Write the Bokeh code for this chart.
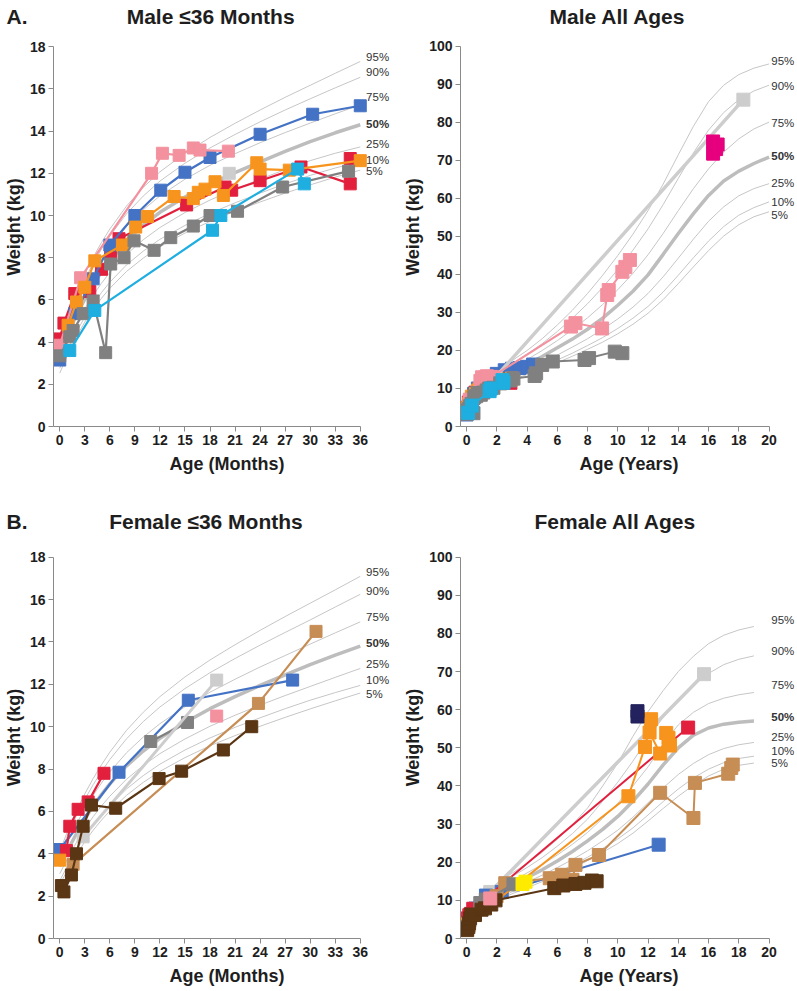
from bokeh.plotting import figure
from bokeh.layouts import column, row
from bokeh.models import Range1d, FixedTicker, Label, Title
from bokeh.embed import file_html
from bokeh.resources import INLINE

FONT = "Liberation Sans"
PCT_NAMES = ["5%", "10%", "25%", "50%", "75%", "90%", "95%"]

# ---------------- percentile reference curves ----------------
# Boys, birth to 36 months (months, kg)
BOY_INF_AGE = [0, 1, 2, 3, 4, 5, 6, 8, 10, 12, 15, 18, 21, 24, 27, 30, 33, 36]
BOY_INF_P5 = [2.53, 3.45, 4.25, 4.95, 5.55, 6.08, 6.55, 7.35, 7.98, 8.52, 9.17, 9.72, 10.20, 10.64, 11.06, 11.45, 11.82, 12.15]
BOY_INF_P10 = [2.76, 3.68, 4.48, 5.19, 5.80, 6.35, 6.84, 7.66, 8.31, 8.87, 9.53, 10.10, 10.60, 11.06, 11.50, 11.90, 12.25, 12.55]
BOY_INF_P25 = [3.15, 4.05, 4.86, 5.58, 6.22, 6.79, 7.30, 8.16, 8.85, 9.43, 10.14, 10.73, 11.25, 11.72, 12.18, 12.60, 12.95, 13.25]
BOY_INF_P50 = [3.53, 4.44, 5.28, 6.03, 6.72, 7.33, 7.88, 8.81, 9.54, 10.15, 10.88, 11.49, 12.03, 12.54, 13.04, 13.50, 13.92, 14.30]
BOY_INF_P75 = [3.88, 4.85, 5.73, 6.52, 7.24, 7.89, 8.48, 9.48, 10.27, 10.93, 11.72, 12.38, 12.93, 13.45, 13.93, 14.38, 14.82, 15.25]
BOY_INF_P90 = [4.17, 5.22, 6.15, 6.98, 7.73, 8.41, 9.03, 10.08, 10.92, 11.63, 12.48, 13.20, 13.84, 14.44, 15.00, 15.53, 16.05, 16.55]
BOY_INF_P95 = [4.34, 5.42, 6.38, 7.24, 8.02, 8.72, 9.36, 10.45, 11.33, 12.07, 12.95, 13.70, 14.37, 15.00, 15.60, 16.17, 16.74, 17.30]

# Girls, birth to 36 months (months, kg)
GIRL_INF_AGE = [0, 1, 2, 3, 4, 5, 6, 8, 10, 12, 15, 18, 21, 24, 27, 30, 33, 36]
GIRL_INF_P5 = [2.55, 3.28, 3.96, 4.57, 5.11, 5.59, 6.02, 6.76, 7.37, 7.89, 8.54, 9.10, 9.58, 10.02, 10.44, 10.84, 11.22, 11.59]
GIRL_INF_P10 = [2.73, 3.48, 4.18, 4.80, 5.35, 5.85, 6.29, 7.06, 7.69, 8.23, 8.90, 9.47, 9.97, 10.42, 10.85, 11.25, 11.61, 11.95]
GIRL_INF_P25 = [3.06, 3.82, 4.54, 5.18, 5.75, 6.26, 6.72, 7.52, 8.17, 8.73, 9.42, 10.02, 10.54, 11.02, 11.47, 11.90, 12.33, 12.75]
GIRL_INF_P50 = [3.40, 4.20, 4.96, 5.64, 6.25, 6.80, 7.30, 8.15, 8.85, 9.45, 10.20, 10.85, 11.42, 11.95, 12.45, 12.93, 13.38, 13.80]
GIRL_INF_P75 = [3.71, 4.60, 5.41, 6.12, 6.76, 7.34, 7.87, 8.77, 9.51, 10.14, 10.94, 11.63, 12.24, 12.82, 13.36, 13.90, 14.43, 14.95]
GIRL_INF_P90 = [3.97, 4.93, 5.80, 6.57, 7.26, 7.88, 8.45, 9.43, 10.24, 10.93, 11.80, 12.55, 13.22, 13.85, 14.45, 15.04, 15.65, 16.25]
GIRL_INF_P95 = [4.12, 5.12, 6.03, 6.83, 7.55, 8.20, 8.80, 9.83, 10.68, 11.42, 12.35, 13.15, 13.87, 14.55, 15.20, 15.83, 16.46, 17.10]

# Boys, all ages (years, kg)
BOY_ALL_AGE = [0, 0.5, 1, 1.5, 2, 3, 4, 5, 6, 7, 8, 9, 10, 11, 12, 13, 14, 15, 16, 17, 18, 19, 20]
BOY_ALL_P5 = [2.5, 6.6, 8.5, 9.6, 10.6, 12.2, 13.7, 15.2, 16.8, 18.5, 20.3, 22.2, 24.4, 26.9, 29.8, 33.4, 37.6, 42.0, 46.3, 50.1, 53.1, 55.2, 56.5]
BOY_ALL_P10 = [2.8, 6.9, 8.9, 10.0, 11.0, 12.6, 14.2, 15.8, 17.5, 19.3, 21.3, 23.4, 25.8, 28.5, 31.6, 35.4, 39.8, 44.4, 48.8, 52.6, 55.6, 57.6, 59.1]
BOY_ALL_P25 = [3.2, 7.4, 9.5, 10.7, 11.8, 13.4, 15.1, 16.9, 18.8, 20.9, 23.1, 25.6, 28.3, 31.4, 35.0, 39.4, 44.3, 49.3, 54.0, 57.8, 60.7, 62.6, 63.9]
BOY_ALL_P50 = [3.5, 7.9, 10.2, 11.5, 12.7, 14.3, 16.3, 18.4, 20.7, 23.0, 25.6, 28.5, 31.9, 35.6, 39.9, 45.3, 50.8, 56.0, 60.8, 64.6, 67.2, 69.2, 70.9]
BOY_ALL_P75 = [3.9, 8.5, 10.9, 12.3, 13.6, 15.4, 17.6, 20.0, 22.6, 25.5, 28.6, 32.1, 36.0, 40.3, 45.2, 50.8, 56.8, 62.6, 67.8, 72.2, 75.7, 78.3, 80.1]
BOY_ALL_P90 = [4.2, 9.0, 11.5, 13.0, 14.5, 16.5, 19.0, 21.8, 25.0, 28.5, 32.3, 36.6, 41.3, 46.4, 52.0, 58.4, 65.3, 72.0, 78.0, 82.6, 86.0, 88.3, 89.8]
BOY_ALL_P95 = [4.3, 9.3, 11.9, 13.5, 15.1, 17.3, 20.0, 23.1, 26.7, 30.6, 35.0, 39.8, 45.0, 50.6, 56.8, 63.8, 71.5, 79.0, 85.5, 89.8, 92.6, 94.3, 95.4]

# Girls, all ages (years, kg)
GIRL_ALL_AGE = [0, 0.5, 1, 1.5, 2, 3, 4, 5, 6, 7, 8, 9, 10, 11, 12, 13, 14, 15, 16, 17, 18, 19]
GIRL_ALL_P5 = [2.55, 6.0, 7.8, 9.0, 10.0, 11.7, 13.3, 14.9, 16.6, 18.4, 20.4, 22.6, 24.9, 27.6, 30.8, 34.1, 37.3, 40.2, 42.6, 44.4, 45.4, 46.0]
GIRL_ALL_P10 = [2.7, 6.3, 8.2, 9.4, 10.4, 12.2, 13.9, 15.5, 17.3, 19.2, 21.3, 23.6, 26.1, 29.0, 32.4, 35.9, 39.2, 42.1, 44.4, 46.1, 47.2, 47.8]
GIRL_ALL_P25 = [3.1, 6.8, 8.7, 10.0, 11.1, 13.0, 14.8, 16.6, 18.6, 20.7, 23.0, 25.6, 28.4, 31.8, 35.6, 39.5, 43.0, 45.9, 48.2, 49.8, 50.8, 51.4]
GIRL_ALL_P50 = [3.4, 7.3, 9.4, 10.8, 12.0, 14.1, 16.0, 18.0, 20.3, 22.8, 25.6, 28.6, 32.0, 36.0, 40.5, 45.5, 50.0, 53.3, 55.2, 56.2, 56.7, 57.0]
GIRL_ALL_P75 = [3.7, 7.9, 10.1, 11.5, 12.8, 15.0, 17.2, 19.4, 21.9, 24.7, 27.8, 31.5, 35.5, 40.0, 45.0, 51.0, 56.0, 59.3, 61.6, 63.0, 63.9, 64.5]
GIRL_ALL_P90 = [4.0, 8.4, 10.8, 12.3, 13.7, 16.2, 18.6, 21.2, 24.2, 27.5, 31.3, 36.0, 41.0, 46.5, 52.5, 58.0, 62.5, 66.5, 69.5, 71.8, 73.2, 74.1]
GIRL_ALL_P95 = [4.1, 8.7, 11.2, 12.9, 14.4, 17.1, 19.7, 22.6, 26.0, 29.9, 34.2, 40.0, 46.0, 53.0, 59.5, 65.0, 70.0, 74.0, 77.3, 79.5, 80.9, 81.8]

# ---------------- patient data ----------------
# Male, <=36 months (months, kg)
M_RED_MO = [0, 0.5, 1.8, 3.6, 5.0, 6.1, 7.1, 15.2, 19.8, 20.6, 24.0, 28.9, 34.8, 34.8]
M_RED_KG = [4.15, 4.9, 6.3, 6.4, 7.45, 8.2, 8.9, 10.5, 11.35, 11.2, 11.65, 12.3, 11.5, 12.7]
M_BLUE_MO = [0, 1.8, 4.0, 6.0, 9.0, 12.1, 15.0, 18.0, 24.0, 30.3, 36.0]
M_BLUE_KG = [3.15, 5.35, 7.0, 8.6, 10.0, 11.2, 12.05, 12.75, 13.85, 14.8, 15.2]
M_PINK_MO = [0, 2.5, 11.0, 12.3, 14.3, 16.0, 16.8, 20.2]
M_PINK_KG = [3.85, 7.05, 12.0, 12.95, 12.85, 13.2, 13.1, 13.05]
M_ORANGE_MO = [1.0, 2.0, 3.0, 4.2, 7.5, 9.1, 10.5, 13.7, 16.0, 16.6, 17.4, 18.6, 19.6, 23.6, 24.0, 27.5, 36.0]
M_ORANGE_KG = [4.8, 5.9, 6.6, 7.85, 8.6, 9.45, 9.95, 10.9, 10.8, 11.1, 11.25, 11.6, 10.95, 12.5, 12.2, 12.15, 12.6]
M_LGRAY_MO = [20.3]
M_LGRAY_KG = [12.0]
M_GRAY_MO = [0, 1.2, 1.6, 2.8, 4.0, 5.5, 6.1, 7.7, 8.9, 11.3, 13.3, 16.0, 18.0, 21.3, 26.7, 34.6]
M_GRAY_KG = [3.35, 4.25, 4.55, 5.35, 5.95, 3.5, 7.7, 8.0, 8.8, 8.35, 8.95, 9.5, 10.0, 10.2, 11.35, 12.1]
M_CYAN_MO = [1.2, 4.2, 18.3, 19.3, 28.5, 29.3]
M_CYAN_KG = [3.6, 5.5, 9.3, 10.0, 12.2, 11.5]

# Male, later visits (years, kg)
M_PINK_EXT_YR = [6.9, 7.2, 8.96, 9.3, 9.4, 10.3, 10.5, 10.8]
M_PINK_EXT_KG = [26.3, 27.2, 25.8, 34.6, 35.9, 40.7, 42.0, 43.8]
M_GRAY_EXT_YR = [3.1, 4.5, 4.6, 5.0, 5.7, 7.8, 8.1, 9.8, 10.3]
M_GRAY_EXT_KG = [12.6, 13.3, 14.0, 16.2, 17.1, 17.5, 18.0, 19.7, 19.3]
M_BLUE_EXT_YR = [3.5, 4.0, 4.4]
M_BLUE_EXT_KG = [15.4, 15.7, 16.3]
M_LGRAY_EXT_YR = [18.3]
M_LGRAY_EXT_KG = [86.0]
M_MAGENTA_YR = [16.3, 16.6, 16.5, 16.3]
M_MAGENTA_KG = [75.0, 74.2, 73.0, 71.8]

# Female, <=36 months (months, kg)
F_BLUE_MO = [0, 7.1, 15.4, 27.9]
F_BLUE_KG = [4.2, 7.85, 11.25, 12.2]
F_RED_MO = [0.8, 1.2, 2.2, 3.4, 5.3]
F_RED_KG = [4.15, 5.3, 6.1, 6.45, 7.8]
F_ORANGE_MO = [0]
F_ORANGE_KG = [3.7]
F_TAN_MO = [1.6, 23.8, 30.7]
F_TAN_KG = [3.5, 11.1, 14.5]
F_BROWN_MO = [0.2, 0.5, 1.4, 2.0, 2.8, 3.8, 6.7, 11.9, 14.6, 19.6, 23.0]
F_BROWN_KG = [2.5, 2.2, 3.0, 4.0, 5.3, 6.3, 6.15, 7.55, 7.9, 8.9, 10.0]
F_GRAY_MO = [10.9, 15.3]
F_GRAY_KG = [9.3, 10.2]
F_LGRAY_MO = [2.8, 18.8]
F_LGRAY_KG = [4.8, 12.2]
F_PINK_MO = [18.8]
F_PINK_KG = [10.5]

# Female, later visits (years, kg)
F_BLUE_EXT_YR = [12.7]
F_BLUE_EXT_KG = [24.6]
F_RED_EXT_YR = [14.65]
F_RED_EXT_KG = [55.3]
F_ORANGE_EXT_YR = [10.7, 11.8, 12.2, 12.1, 12.8, 13.2, 13.35, 13.45]
F_ORANGE_EXT_KG = [37.3, 50.2, 57.5, 54.0, 48.5, 53.9, 52.6, 50.6]
F_TAN_EXT_YR = [5.5, 6.1, 6.3, 7.0, 7.2, 8.75, 12.8, 15.0, 15.1, 17.3, 17.5, 17.6]
F_TAN_EXT_KG = [15.8, 15.0, 16.7, 15.4, 19.3, 21.9, 38.2, 31.6, 40.8, 43.2, 44.7, 45.6]
F_BROWN_EXT_YR = [5.8, 6.4, 7.2, 7.8, 8.3, 8.6]
F_BROWN_EXT_KG = [13.2, 13.9, 14.3, 14.6, 15.2, 15.0]
F_GRAY_EXT_YR = [3.1]
F_GRAY_EXT_KG = [14.2]
F_LGRAY_EXT_YR = [15.7]
F_LGRAY_EXT_KG = [69.3]
F_NAVY_YR = [11.3, 11.3]
F_NAVY_KG = [58.2, 59.6]
F_YELLOW_YR = [3.7, 3.9]
F_YELLOW_KG = [14.3, 14.9]

MONTH_TICKS = list(range(0, 37, 3))
KG_TICKS_INF = list(range(0, 19, 2))
YEAR_TICKS = list(range(0, 21, 2))
KG_TICKS_ALL = list(range(0, 101, 10))

# ---------------- colours ----------------
BLUE = "#4472C4"
RED = "#E2203E"
PINK = "#F4919F"
ORANGE = "#F7941E"
LGRAY = "#CDCDCD"
GRAY = "#808080"
CYAN = "#1FAEE0"
MAGENTA = "#E6007E"
TAN = "#C68D55"
BROWN = "#5A3614"
NAVY = "#23225E"
YELLOW = "#FFEB00"
PCT_COLOR = "#C6C6C6"
MED_COLOR = "#BDBDBD"
TXT = "#1E1E1E"
NB = "\u00a0"


def base_fig(width, height, xr, yr, bl, bt, bb, title, t_align, t_offset, t_standoff):
    p = figure(width=width, height=height, x_range=Range1d(*xr), y_range=Range1d(*yr),
               output_backend="svg", toolbar_location=None,
               min_border_left=bl, min_border_right=0, min_border_top=bt, min_border_bottom=bb)
    p.outline_line_color = None
    p.grid.visible = False
    p.title = Title(text=title, align=t_align, offset=t_offset, standoff=t_standoff,
                    text_font=FONT, text_font_size="21px", text_font_style="bold",
                    text_color=TXT)
    return p


def style(p, xticks, yticks, xstart, xlabel, ylabel):
    p.xaxis.ticker = FixedTicker(ticks=xticks)
    p.yaxis.ticker = FixedTicker(ticks=yticks)
    p.xaxis.bounds = (xstart, xticks[-1])
    p.yaxis.bounds = (yticks[0], yticks[-1])
    p.xaxis.axis_label = xlabel
    p.yaxis.axis_label = ylabel
    for ax in (p.xaxis[0], p.yaxis[0]):
        ax.axis_line_color = "#8A8A8A"
        ax.axis_line_width = 1
        ax.major_tick_line_color = "#8A8A8A"
        ax.major_tick_out = 5
        ax.major_tick_in = 0
        ax.minor_tick_line_color = None
        ax.major_label_text_font = FONT
        ax.major_label_text_font_style = "bold"
        ax.major_label_text_font_size = "14px"
        ax.major_label_text_color = TXT
        ax.major_label_standoff = 3
        ax.axis_label_text_font = FONT
        ax.axis_label_text_font_style = "bold"
        ax.axis_label_text_font_size = "18px"
        ax.axis_label_text_color = TXT
    p.xaxis[0].axis_label_standoff = 6
    p.yaxis[0].axis_label_standoff = 3


def draw_pcts(p, age, series):
    for name, vals in zip(PCT_NAMES, series):
        if name == "50%":
            p.line(age, vals, line_color=MED_COLOR, line_width=3.5)
        else:
            p.line(age, vals, line_color=PCT_COLOR, line_width=1)


def pct_labels(p, x, ys):
    for name, y in zip(PCT_NAMES, ys):
        p.add_layout(Label(x=x, y=y, text=name, text_font=FONT, text_font_size="11.5px",
                           text_color="#333333", text_baseline="middle", text_align="left",
                           text_font_style="bold" if name == "50%" else "normal"))


def draw_patient(p, xs, ys, color, lw, size):
    if len(xs) > 1:
        p.line(xs, ys, line_color=color, line_width=lw)
    p.scatter(xs, ys, marker="square", size=size, fill_color=color, line_color=color)


def to_years(months):
    return [m / 12.0 for m in months]


X0_INF = -0.75
X0_ALL = -0.4

# ---------------- Panel A: Male <=36 months ----------------
pA = base_fig(400, 492, (X0_INF, 40.82), (0, 18.91), 50, 27, 66,
              "A." + NB * 17 + "Male \u226436 Months", "left", -47, 0)
style(pA, MONTH_TICKS, KG_TICKS_INF, X0_INF, "Age (Months)", "Weight (kg)")
draw_pcts(pA, BOY_INF_AGE, [BOY_INF_P5, BOY_INF_P10, BOY_INF_P25, BOY_INF_P50,
                            BOY_INF_P75, BOY_INF_P90, BOY_INF_P95])
pct_labels(pA, 36.7, [12.10, 12.64, 13.37, 14.35, 15.61, 16.79, 17.50])
male_inf = [
    (M_RED_MO, M_RED_KG, RED, 2.2),
    (M_BLUE_MO, M_BLUE_KG, BLUE, 2.2),
    (M_PINK_MO, M_PINK_KG, PINK, 2.2),
    (M_ORANGE_MO, M_ORANGE_KG, ORANGE, 2.2),
    (M_LGRAY_MO, M_LGRAY_KG, LGRAY, 3),
    (M_GRAY_MO, M_GRAY_KG, GRAY, 2.2),
    (M_CYAN_MO, M_CYAN_KG, CYAN, 2.2),
]
for xs, ys, c, lw in male_inf:
    draw_patient(pA, xs, ys, c, lw, 12)

# ---------------- Panel A2: Male all ages ----------------
pA2 = base_fig(397, 492, (X0_ALL, 21.88), (0, 104.99), 57, 27, 66,
               "Male All Ages", "left", 89, 0)
style(pA2, YEAR_TICKS, KG_TICKS_ALL, X0_ALL, "Age (Years)", "Weight (kg)")
draw_pcts(pA2, BOY_ALL_AGE, [BOY_ALL_P5, BOY_ALL_P10, BOY_ALL_P25, BOY_ALL_P50,
                             BOY_ALL_P75, BOY_ALL_P90, BOY_ALL_P95])
pct_labels(pA2, 20.15, [55.6, 59.1, 64.1, 71.1, 79.9, 89.5, 96.3])
male_all = [
    (to_years(M_RED_MO), M_RED_KG, RED, 2),
    (to_years(M_BLUE_MO) + M_BLUE_EXT_YR, M_BLUE_KG + M_BLUE_EXT_KG, BLUE, 2),
    (to_years(M_ORANGE_MO), M_ORANGE_KG, ORANGE, 2),
    (to_years(M_LGRAY_MO) + M_LGRAY_EXT_YR, M_LGRAY_KG + M_LGRAY_EXT_KG, LGRAY, 3.5),
    (to_years(M_PINK_MO) + M_PINK_EXT_YR, M_PINK_KG + M_PINK_EXT_KG, PINK, 2),
    (to_years(M_GRAY_MO) + M_GRAY_EXT_YR, M_GRAY_KG + M_GRAY_EXT_KG, GRAY, 2),
    (to_years(M_CYAN_MO), M_CYAN_KG, CYAN, 2),
    (M_MAGENTA_YR, M_MAGENTA_KG, MAGENTA, 2),
]
for xs, ys, c, lw in male_all:
    draw_patient(pA2, xs, ys, c, lw, 13)

# ---------------- Panel B: Female <=36 months ----------------
pB = base_fig(400, 498, (X0_INF, 40.82), (0, 18.98), 50, 44, 52,
              "B." + NB * 14 + "Female \u226436 Months", "left", -47, 8)
style(pB, MONTH_TICKS, KG_TICKS_INF, X0_INF, "Age (Months)", "Weight (kg)")
draw_pcts(pB, GIRL_INF_AGE, [GIRL_INF_P5, GIRL_INF_P10, GIRL_INF_P25, GIRL_INF_P50,
                             GIRL_INF_P75, GIRL_INF_P90, GIRL_INF_P95])
pct_labels(pB, 36.7, [11.56, 12.22, 12.97, 13.95, 15.17, 16.43, 17.29])
female_inf = [
    (F_BLUE_MO, F_BLUE_KG, BLUE, 2.2),
    (F_RED_MO, F_RED_KG, RED, 2.2),
    (F_ORANGE_MO, F_ORANGE_KG, ORANGE, 2.2),
    (F_TAN_MO, F_TAN_KG, TAN, 2.2),
    (F_GRAY_MO, F_GRAY_KG, GRAY, 2.2),
    (F_LGRAY_MO, F_LGRAY_KG, LGRAY, 3),
    (F_PINK_MO, F_PINK_KG, PINK, 2.2),
    (F_BROWN_MO, F_BROWN_KG, BROWN, 2.2),
]
for xs, ys, c, lw in female_inf:
    draw_patient(pB, xs, ys, c, lw, 12)

# ---------------- Panel B2: Female all ages ----------------
pB2 = base_fig(397, 498, (X0_ALL, 21.88), (0, 105.4), 57, 44, 52,
               "Female All Ages", "left", 74, 8)
style(pB2, YEAR_TICKS, KG_TICKS_ALL, X0_ALL, "Age (Years)", "Weight (kg)")
draw_pcts(pB2, GIRL_ALL_AGE, [GIRL_ALL_P5, GIRL_ALL_P10, GIRL_ALL_P25, GIRL_ALL_P50,
                              GIRL_ALL_P75, GIRL_ALL_P90, GIRL_ALL_P95])
pct_labels(pB2, 20.15, [46.1, 49.1, 52.8, 58.1, 66.5, 75.4, 83.5])
female_all = [
    (to_years(F_LGRAY_MO) + F_LGRAY_EXT_YR, F_LGRAY_KG + F_LGRAY_EXT_KG, LGRAY, 3.5),
    (to_years(F_BLUE_MO) + F_BLUE_EXT_YR, F_BLUE_KG + F_BLUE_EXT_KG, BLUE, 2),
    (to_years(F_RED_MO) + F_RED_EXT_YR, F_RED_KG + F_RED_EXT_KG, RED, 2),
    (to_years(F_ORANGE_MO) + F_ORANGE_EXT_YR, F_ORANGE_KG + F_ORANGE_EXT_KG, ORANGE, 2),
    (to_years(F_TAN_MO) + F_TAN_EXT_YR, F_TAN_KG + F_TAN_EXT_KG, TAN, 2),
    (to_years(F_GRAY_MO) + F_GRAY_EXT_YR, F_GRAY_KG + F_GRAY_EXT_KG, GRAY, 2),
    (to_years(F_BROWN_MO) + F_BROWN_EXT_YR, F_BROWN_KG + F_BROWN_EXT_KG, BROWN, 2),
    (to_years(F_PINK_MO), F_PINK_KG, PINK, 2),
    (F_NAVY_YR, F_NAVY_KG, NAVY, 2),
    (F_YELLOW_YR, F_YELLOW_KG, YELLOW, 2),
]
for xs, ys, c, lw in female_all:
    draw_patient(pB2, xs, ys, c, lw, 13)

layout = column(row(pA, pA2), row(pB, pB2))
open("out.html", "w").write(file_html(layout, INLINE))
